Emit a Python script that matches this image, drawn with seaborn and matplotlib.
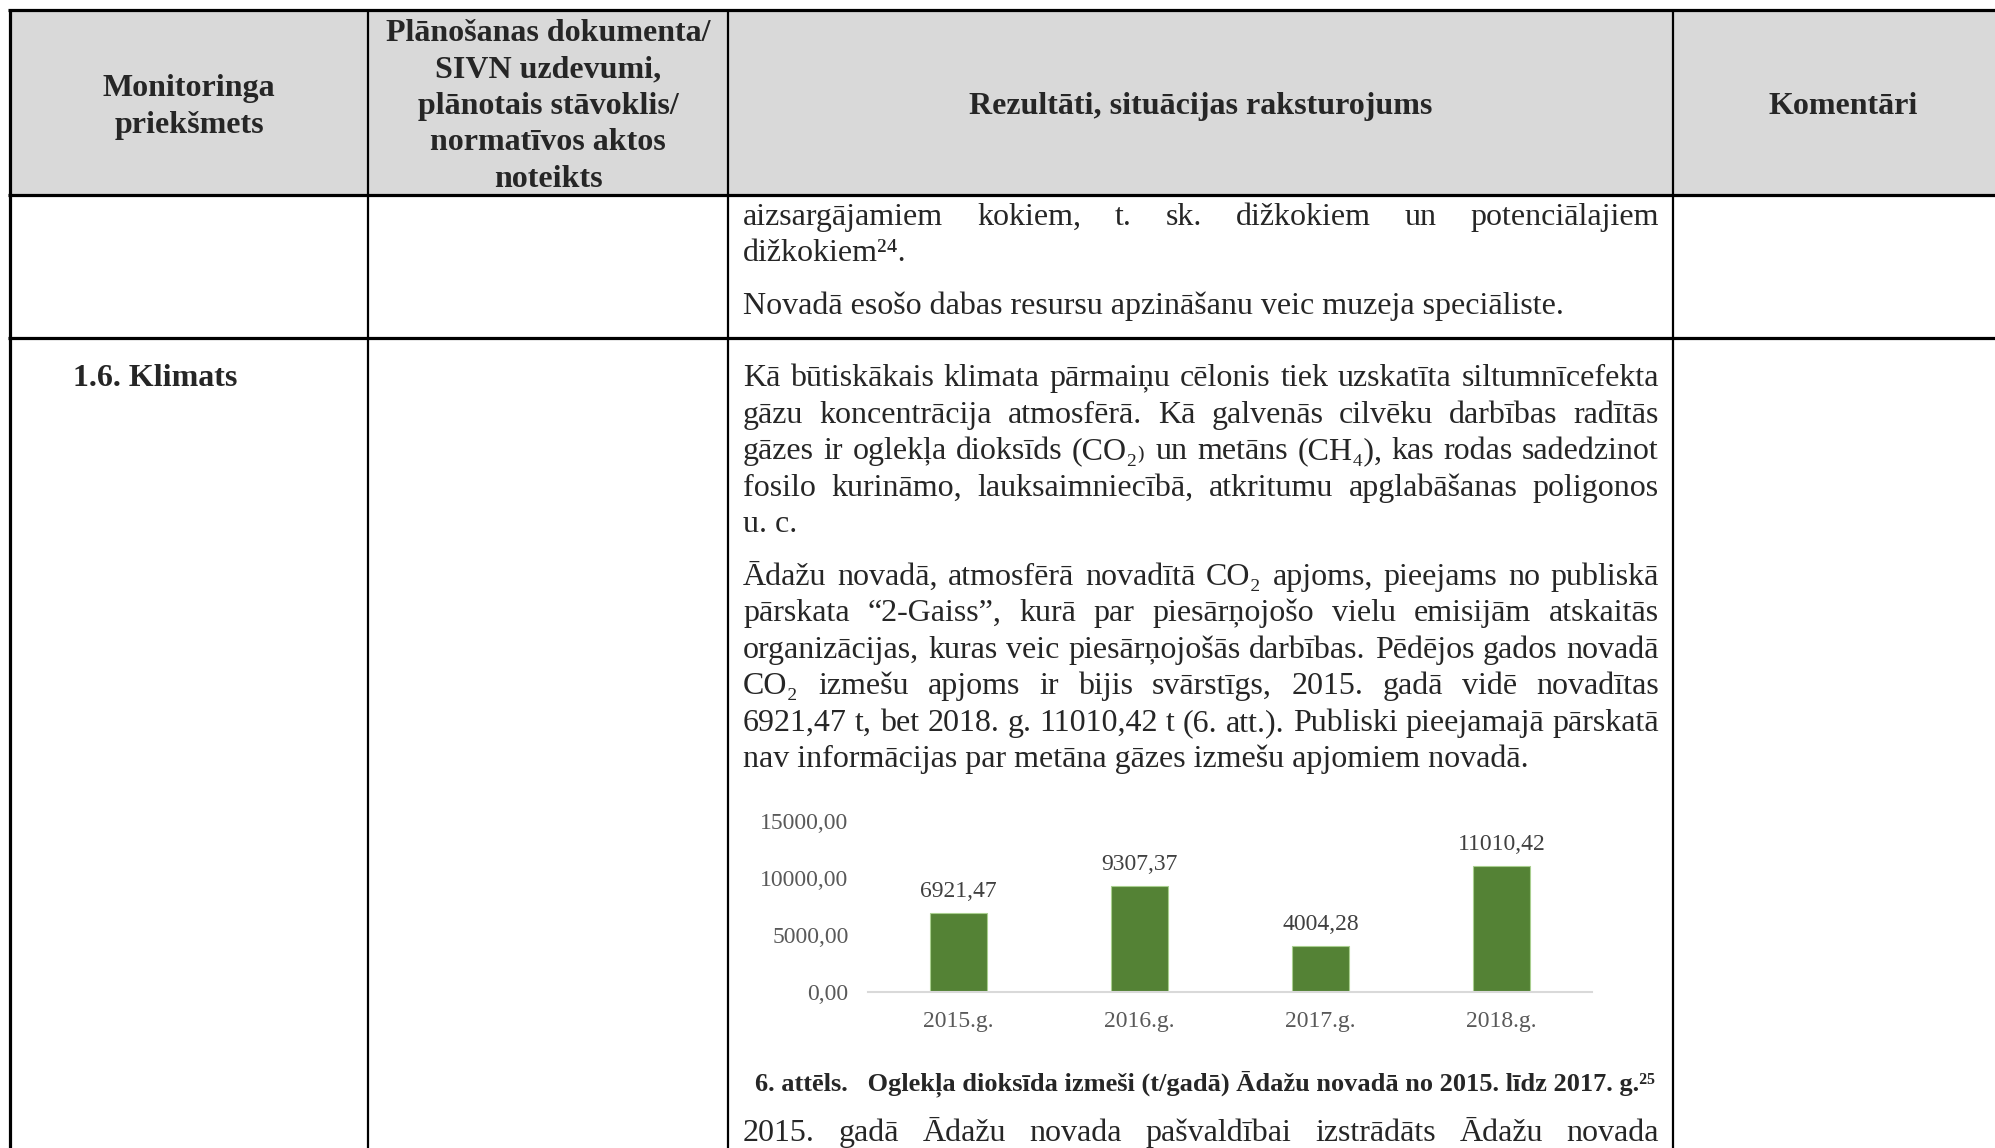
import numpy as np
import pandas as pd
import matplotlib
matplotlib.use('Agg')
import matplotlib.pyplot as plt
import seaborn as sns
from matplotlib.patches import Rectangle

W, H = 1995, 1148

# chart data
years = ['2015.g.', '2016.g.', '2017.g.', '2018.g.']
co2 = [6921.47, 9307.37, 4004.28, 11010.42]
y_ticks = [0, 5000, 10000, 15000]

# table text
head_1 = ['Monitoringa', 'priekšmets']
head_2 = ['Plānošanas dokumenta/', 'SIVN uzdevumi,', 'plānotais stāvoklis/',
          'normatīvos aktos', 'noteikts']
head_3 = 'Rezultāti, situācijas raksturojums'
head_4 = 'Komentāri'
row_title = '1.6. Klimats'

# (text, justified)
row1_lines = [
    ('aizsargājamiem kokiem, t. sk. dižkokiem un potenciālajiem', True),
    ('dižkokiem²⁴.', False),
    ('Novadā esošo dabas resursu apzināšanu veic muzeja speciāliste.', False),
]
para1 = [
    ('Kā būtiskākais klimata pārmaiņu cēlonis tiek uzskatīta siltumnīcefekta', True),
    ('gāzu koncentrācija atmosfērā. Kā galvenās cilvēku darbības radītās', True),
    ('gāzes ir oglekļa dioksīds (CO₂₎ un metāns (CH₄), kas rodas sadedzinot', True),
    ('fosilo kurināmo, lauksaimniecībā, atkritumu apglabāšanas poligonos', True),
    ('u. c.', False),
]
para2 = [
    ('Ādažu novadā, atmosfērā novadītā CO₂ apjoms, pieejams no publiskā', True),
    ('pārskata “2-Gaiss”, kurā par piesārņojošo vielu emisijām atskaitās', True),
    ('organizācijas, kuras veic piesārņojošās darbības. Pēdējos gados novadā', True),
    ('CO₂ izmešu apjoms ir bijis svārstīgs, 2015. gadā vidē novadītas', True),
    ('6921,47 t, bet 2018. g. 11010,42 t (6. att.). Publiski pieejamajā pārskatā', True),
    ('nav informācijas par metāna gāzes izmešu apjomiem novadā.', False),
]
caption = '6. attēls.   Oglekļa dioksīda izmeši (t/gadā) Ādažu novadā no 2015. līdz 2017. g.²⁵'
last_line = ('2015. gadā Ādažu novada pašvaldībai izstrādāts Ādažu novada', True)

sns.set_style('white')
plt.rcParams['font.family'] = ['Liberation Serif', 'DejaVu Serif', 'DejaVu Sans']

fig = plt.figure(figsize=(W / 100, H / 100), dpi=100)
ax0 = fig.add_axes([0, 0, 1, 1])
ax0.set_xlim(0, W)
ax0.set_ylim(H, 0)
ax0.axis('off')
r = fig.canvas.get_renderer()

BODY = 23
X0, X1 = 743, 1659

# header background and grid
ax0.add_patch(Rectangle((10, 10), W - 10, 185, color='#d9d9d9', zorder=0))
for yy in [10, 195, 338]:
    ax0.plot([8, W], [yy, yy], color='black', lw=2.3, solid_capstyle='butt')
for xx, lw in [(10, 2.3), (368, 1.6), (728, 1.6), (1673, 1.6)]:
    ax0.plot([xx, xx], [10, H], color='black', lw=lw, solid_capstyle='butt')


def put_line(s, y, justify, x0=X0, x1=X1, **kw):
    if not justify:
        ax0.text(x0, y, s, va='baseline', ha='left', fontsize=BODY, **kw)
        return
    words = s.split(' ')
    arts = [ax0.text(0, y, w, va='baseline', ha='left', fontsize=BODY, **kw) for w in words]
    widths = [a.get_window_extent(renderer=r).width for a in arts]
    gap = (x1 - x0 - sum(widths)) / (len(words) - 1)
    x = x0
    for a, wd in zip(arts, widths):
        a.set_x(x)
        x += wd + gap


# header texts
for s, yy in zip(head_1, [96, 133]):
    ax0.text(189, yy, s, ha='center', va='baseline', fontsize=BODY, weight='bold')
for s, yy in zip(head_2, [41, 77, 114, 150, 187]):
    ax0.text(548, yy, s, ha='center', va='baseline', fontsize=BODY, weight='bold')
ax0.text(1201, 114, head_3, ha='center', va='baseline', fontsize=BODY, weight='bold')
ax0.text(1843, 114, head_4, ha='center', va='baseline', fontsize=BODY, weight='bold')

# row 1
for (s, j), yy in zip(row1_lines, [225, 261, 314]):
    put_line(s, yy, j)

# row 2
ax0.text(73, 386, row_title, ha='left', va='baseline', fontsize=BODY, weight='bold')
for (s, j), yy in zip(para1, [386, 423, 459, 496, 532]):
    put_line(s, yy, j)
for (s, j), yy in zip(para2, [585, 621, 658, 694, 731, 767]):
    put_line(s, yy, j)

ax0.text(1205, 1090, caption, ha='center', va='baseline', fontsize=19, weight='bold')
put_line(last_line[0], 1141, last_line[1])

# bar chart
ax = fig.add_axes([868 / W, 1 - 992 / H, 724 / W, 171 / H])
df = pd.DataFrame({'year': years, 'co2': co2})
sns.barplot(data=df, x='year', y='co2', color='#548235', width=0.32,
            edgecolor='#a9cf8f', linewidth=0.8, saturation=1, ax=ax)
ax.set_ylim(0, 15000)
ax.set_xlim(-0.5, 3.5)
ax.set_yticks(y_ticks)
ax.set_yticklabels([f'{v:.2f}'.replace('.', ',') for v in y_ticks])
ax.set_xlabel('')
ax.set_ylabel('')
ax.tick_params(axis='both', length=0, labelsize=17, labelcolor='#595959')
ax.tick_params(axis='y', pad=14)
ax.tick_params(axis='x', pad=14)
for sp in ['top', 'left', 'right']:
    ax.spines[sp].set_visible(False)
ax.spines['bottom'].set_color('#d9d9d9')
ax.spines['bottom'].set_linewidth(1.5)
ax.patch.set_alpha(0)
ax.bar_label(ax.containers[0], labels=[f'{v:.2f}'.replace('.', ',') for v in co2],
             padding=8, fontsize=17, color='#404040')

fig.savefig('out.png', dpi=100)
